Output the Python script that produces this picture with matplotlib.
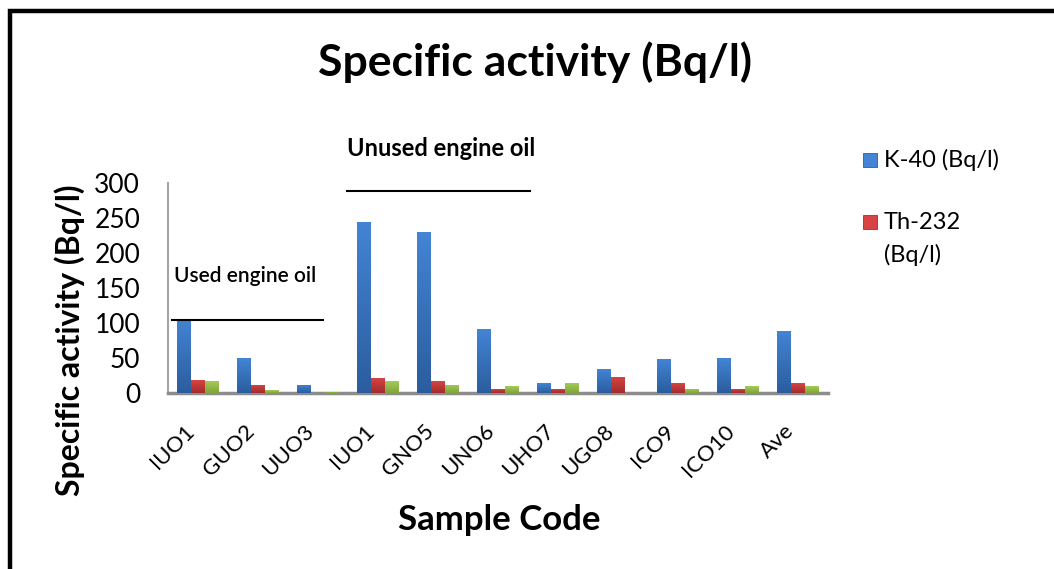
import matplotlib
matplotlib.use("Agg")
import matplotlib.pyplot as plt
import matplotlib.patches as mpatches
import matplotlib.lines as mlines
import matplotlib.transforms as mtransforms
import numpy as np

plt.rcParams["font.family"] = ["Lato", "DejaVu Sans"]

# data
samples = ["IUO1", "GUO2", "UUO3", "IUO1", "GNO5", "UNO6", "UHO7", "UGO8", "ICO9", "ICO10", "Ave"]
k40 = [106, 50, 12, 244, 230, 91, 14, 34, 49, 50, 89]
th232 = [18, 12, 0, 22, 17, 6, 6, 23, 14, 6, 14]
ra226 = [17, 4, 2, 17, 12, 10, 14, 0, 6, 10, 10]
series_labels = ["K-40 (Bq/l)", "Th-232 (Bq/l)", "Ra-226 (Bq/l)"]
yticks = [0, 50, 100, 150, 200, 250, 300]

W, H = 1054, 569
fig = plt.figure(figsize=(W / 100, H / 100), dpi=100)

def fx(px):
    return px / W

def fy(py):
    return 1 - py / H

ax = fig.add_axes([fx(168), fy(393), fx(828) - fx(168), fy(183) - fy(393)])

colors = [("#4384d4", "#2b5d9e"), ("#d84444", "#a12d2d"), ("#a4cb55", "#7fa53c")]
x = np.arange(len(samples))
bw = 0.233
for i, (vals, (ctop, cbot)) in enumerate(zip([k40, th232, ra226], colors)):
    bars = ax.bar(x + (i - 1) * bw, vals, bw, color=cbot, zorder=3, label=series_labels[i])
    cmap = matplotlib.colors.LinearSegmentedColormap.from_list("g%d" % i, [cbot, ctop])
    grad = np.linspace(0, 1, 64).reshape(-1, 1)
    for b in bars:
        if b.get_height() <= 0:
            continue
        x0, w, h = b.get_x(), b.get_width(), b.get_height()
        im = ax.imshow(grad, cmap=cmap, origin="lower", aspect="auto",
                       extent=[x0, x0 + w, 0, h], zorder=4)
        im.set_clip_path(b)

ax.set_xlim(-0.5, len(samples) - 0.5)
ax.set_ylim(0, 300)
ax.set_yticks(yticks)
ax.set_yticklabels([str(v) for v in yticks], fontsize=19)
ax.set_xticks(x)
ax.set_xticklabels(samples, rotation=45, ha="right", rotation_mode="anchor", fontsize=16)
ax.tick_params(axis="y", length=0, pad=20)
ax.tick_params(axis="x", length=0, pad=20)
shift = mtransforms.ScaledTranslation(-0.14, 0, fig.dpi_scale_trans)
for lab in ax.get_xticklabels():
    lab.set_transform(lab.get_transform() + shift)

for s in ["top", "right"]:
    ax.spines[s].set_visible(False)
ax.spines["left"].set_color("#a6a6a6")
ax.spines["left"].set_linewidth(1.5)
ax.spines["bottom"].set_color("#8c8c8c")
ax.spines["bottom"].set_linewidth(2.5)

fig.text(fx(535), fy(62), "Specific activity (Bq/l)", fontsize=32, fontweight="bold",
         ha="center", va="center")
fig.text(fx(70), fy(340), "Specific activity (Bq/l)", fontsize=23, fontweight="bold",
         ha="center", va="center", rotation=90)
fig.text(fx(499), fy(520), "Sample Code", fontsize=25, fontweight="bold",
         ha="center", va="center")

# group annotations
fig.text(fx(174), fy(276), "Used engine oil", fontsize=15, fontweight="semibold",
         ha="left", va="center")
fig.add_artist(mlines.Line2D([fx(172), fx(323)], [fy(320), fy(320)], color="black", lw=1.5))
fig.text(fx(347), fy(148), "Unused engine oil", fontsize=17, fontweight="bold",
         ha="left", va="center")
fig.add_artist(mlines.Line2D([fx(347), fx(530)], [fy(191), fy(191)], color="black", lw=1.5))

# legend, drawn by hand (third entry falls outside the frame in the original)
leg_y = [160, 222]
for (ctop, cbot), yy in zip(colors[:2], leg_y):
    fig.add_artist(mpatches.Rectangle((fx(863), fy(yy + 7)), fx(14), 14 / H,
                                      facecolor=ctop, edgecolor=cbot, lw=0.6))
fig.text(fx(884), fy(160), "K-40 (Bq/l)", fontsize=17, ha="left", va="center")
fig.text(fx(884), fy(222), "Th-232", fontsize=17, ha="left", va="center")
fig.text(fx(884), fy(255), "(Bq/l)", fontsize=17, ha="left", va="center")

# outer frame
fig.add_artist(mpatches.Rectangle((fx(10), -0.1), 1.2, fy(11.5) + 0.1, fill=False,
                                  edgecolor="black", lw=3.2))

fig.savefig("out.png", dpi=100)
